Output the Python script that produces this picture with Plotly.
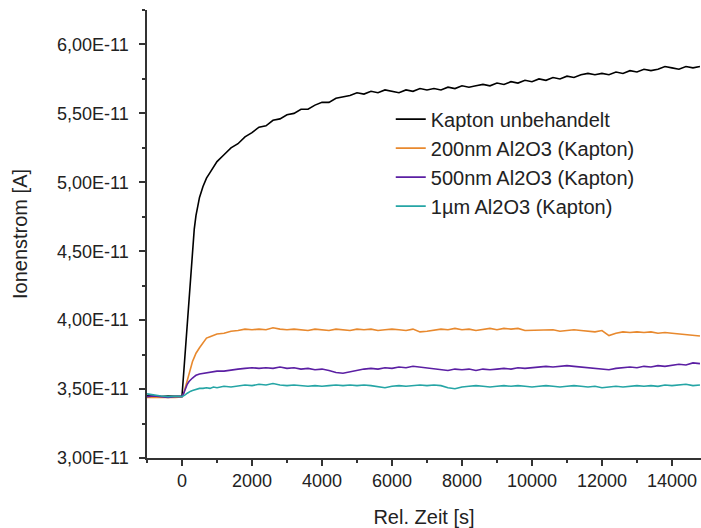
import plotly.graph_objects as go

# Relative time [s]
t = [-1000, -800, -600, -400, -200, 0, 50, 100, 150, 200, 250, 300, 350, 400, 500, 600, 700, 800, 900, 1000,
     1200, 1400, 1600, 1800, 2000, 2200, 2400, 2600, 2800, 3000,
     3200, 3400, 3600, 3800, 4000, 4200, 4400, 4600, 4800, 5000,
     5200, 5400, 5600, 5800, 6000, 6200, 6400, 6600, 6800, 7000,
     7200, 7400, 7600, 7800, 8000, 8200, 8400, 8600, 8800, 9000,
     9200, 9400, 9600, 9800, 10000, 10200, 10400, 10600, 10800, 11000,
     11200, 11400, 11600, 11800, 12000, 12200, 12400, 12600, 12800, 13000,
     13200, 13400, 13600, 13800, 14000, 14200, 14400, 14600, 14800]

# Ion current in units of 1E-11 A
kapton = [3.452, 3.448, 3.445, 3.450, 3.447, 3.450, 3.62, 3.80, 3.96, 4.13, 4.33, 4.52, 4.66, 4.76, 4.89, 4.97, 5.03, 5.07, 5.11, 5.15,
          5.20, 5.25, 5.28, 5.33, 5.36, 5.40, 5.41, 5.45, 5.46, 5.49,
          5.50, 5.53, 5.53, 5.56, 5.58, 5.58, 5.61, 5.62, 5.63, 5.65,
          5.64, 5.66, 5.65, 5.67, 5.66, 5.65, 5.67, 5.66, 5.68, 5.67,
          5.68, 5.67, 5.69, 5.68, 5.70, 5.69, 5.70, 5.71, 5.70, 5.72,
          5.71, 5.73, 5.72, 5.74, 5.73, 5.75, 5.74, 5.76, 5.75, 5.77,
          5.76, 5.78, 5.79, 5.78, 5.79, 5.78, 5.80, 5.79, 5.81, 5.80,
          5.82, 5.81, 5.82, 5.84, 5.83, 5.82, 5.84, 5.83, 5.84]

al200 = [3.440, 3.442, 3.440, 3.441, 3.440, 3.442, 3.47, 3.52, 3.57, 3.62, 3.66, 3.70, 3.73, 3.76, 3.80, 3.84, 3.87, 3.88, 3.89, 3.90,
         3.905, 3.92, 3.925, 3.935, 3.93, 3.935, 3.93, 3.945, 3.935, 3.93,
         3.935, 3.93, 3.925, 3.935, 3.93, 3.925, 3.935, 3.93, 3.925, 3.935,
         3.93, 3.935, 3.925, 3.93, 3.935, 3.93, 3.925, 3.935, 3.915, 3.92,
         3.93, 3.935, 3.93, 3.94, 3.93, 3.935, 3.925, 3.935, 3.94, 3.93,
         3.94, 3.935, 3.94, 3.925, 3.925, 3.93, 3.925, 3.93, 3.92, 3.925,
         3.93, 3.925, 3.92, 3.915, 3.925, 3.888, 3.905, 3.915, 3.91, 3.915,
         3.91, 3.915, 3.905, 3.91, 3.905, 3.90, 3.895, 3.895, 3.885]

al500 = [3.445, 3.450, 3.445, 3.440, 3.445, 3.445, 3.47, 3.51, 3.535, 3.555, 3.57, 3.58, 3.59, 3.60, 3.61, 3.615, 3.62, 3.625, 3.625, 3.63,
         3.63, 3.64, 3.645, 3.65, 3.655, 3.65, 3.655, 3.65, 3.66, 3.65,
         3.655, 3.645, 3.65, 3.64, 3.645, 3.635, 3.62, 3.615, 3.625, 3.64,
         3.645, 3.65, 3.645, 3.655, 3.65, 3.66, 3.655, 3.665, 3.66, 3.655,
         3.645, 3.64, 3.635, 3.645, 3.64, 3.645, 3.635, 3.645, 3.64, 3.645,
         3.65, 3.645, 3.655, 3.65, 3.655, 3.66, 3.665, 3.66, 3.665, 3.67,
         3.665, 3.66, 3.655, 3.65, 3.645, 3.64, 3.65, 3.655, 3.66, 3.655,
         3.665, 3.66, 3.67, 3.665, 3.675, 3.68, 3.675, 3.69, 3.685]

al1000 = [3.465, 3.455, 3.450, 3.445, 3.448, 3.445, 3.45, 3.46, 3.47, 3.48, 3.485, 3.49, 3.495, 3.50, 3.505, 3.505, 3.51, 3.505, 3.515, 3.51,
          3.52, 3.515, 3.525, 3.53, 3.525, 3.535, 3.53, 3.54, 3.53, 3.525,
          3.53, 3.525, 3.52, 3.525, 3.52, 3.525, 3.53, 3.525, 3.53, 3.525,
          3.53, 3.525, 3.52, 3.51, 3.52, 3.525, 3.52, 3.525, 3.53, 3.525,
          3.53, 3.525, 3.51, 3.502, 3.515, 3.52, 3.525, 3.52, 3.515, 3.52,
          3.525, 3.52, 3.525, 3.52, 3.515, 3.52, 3.525, 3.52, 3.515, 3.52,
          3.525, 3.52, 3.515, 3.52, 3.51, 3.515, 3.52, 3.515, 3.52, 3.525,
          3.52, 3.525, 3.52, 3.53, 3.525, 3.53, 3.535, 3.525, 3.53]

names = ["Kapton unbehandelt", "200nm Al2O3 (Kapton)", "500nm Al2O3 (Kapton)", "1µm Al2O3 (Kapton)"]
series = [kapton, al200, al500, al1000]
colors = ["#000000", "#E8892E", "#5B1FA3", "#25A5A5"]

yticks = [3.0, 3.5, 4.0, 4.5, 5.0, 5.5, 6.0]
yticktext = ["3,00E-11", "3,50E-11", "4,00E-11", "4,50E-11", "5,00E-11", "5,50E-11", "6,00E-11"]
xticks = [0, 2000, 4000, 6000, 8000, 10000, 12000, 14000]
xticktext = ["0", "2000", "4000", "6000", "8000", "10000", "12000", "14000"]

SCALE = 1e-11

fig = go.Figure()
for name, vals, col in zip(names, series, colors):
    fig.add_trace(go.Scatter(x=t, y=[v * SCALE for v in vals], mode="lines", name=name,
                             line=dict(color=col, width=1.6)))

font_family = "Liberation Sans, Arial, sans-serif"
fig.update_layout(
    width=701, height=528,
    margin=dict(l=147, r=0, t=10, b=70, autoexpand=False),
    paper_bgcolor="white", plot_bgcolor="white",
    font=dict(family=font_family, color="#222222", size=18),
    showlegend=True,
    legend=dict(x=0.44, y=0.80, xanchor="left", yanchor="top",
                bgcolor="rgba(0,0,0,0)", borderwidth=0,
                font=dict(size=20, color="#222222"), tracegroupgap=0,
                itemwidth=30),
)
fig.update_xaxes(
    range=[-1000, 14830], tickmode="array", tickvals=xticks, ticktext=xticktext,
    ticks="outside", ticklen=6, tickwidth=1.5, tickcolor="#333333",
    showline=True, linecolor="#333333", linewidth=1.5, mirror=False,
    showgrid=False, zeroline=False,
    tickfont=dict(size=18),
    minor=dict(ticks="outside", ticklen=3, tickwidth=1.5, tickcolor="#333333", dtick=1000, tick0=0, showgrid=False),
    title=dict(text="Rel. Zeit [s]", font=dict(size=20), standoff=21),
    automargin=False,
)
fig.update_yaxes(
    range=[3.0 * SCALE, 6.25 * SCALE], tickmode="array",
    tickvals=[v * SCALE for v in yticks], ticktext=yticktext,
    ticks="outside", ticklen=6, tickwidth=1.5, tickcolor="#333333",
    showline=True, linecolor="#333333", linewidth=1.5, mirror=False,
    showgrid=False, zeroline=False,
    tickfont=dict(size=18), ticklabelstandoff=7,
    minor=dict(ticks="outside", ticklen=3, tickwidth=1.5, tickcolor="#333333", dtick=0.25 * SCALE, tick0=3.0 * SCALE, showgrid=False),
    title=dict(text="Ionenstrom [A]", font=dict(size=20), standoff=24),
    automargin=False,
)

fig.write_html("out.html", config={"displayModeBar": False},
               post_script="document.body.style.margin='0';document.body.style.overflow='hidden';")
